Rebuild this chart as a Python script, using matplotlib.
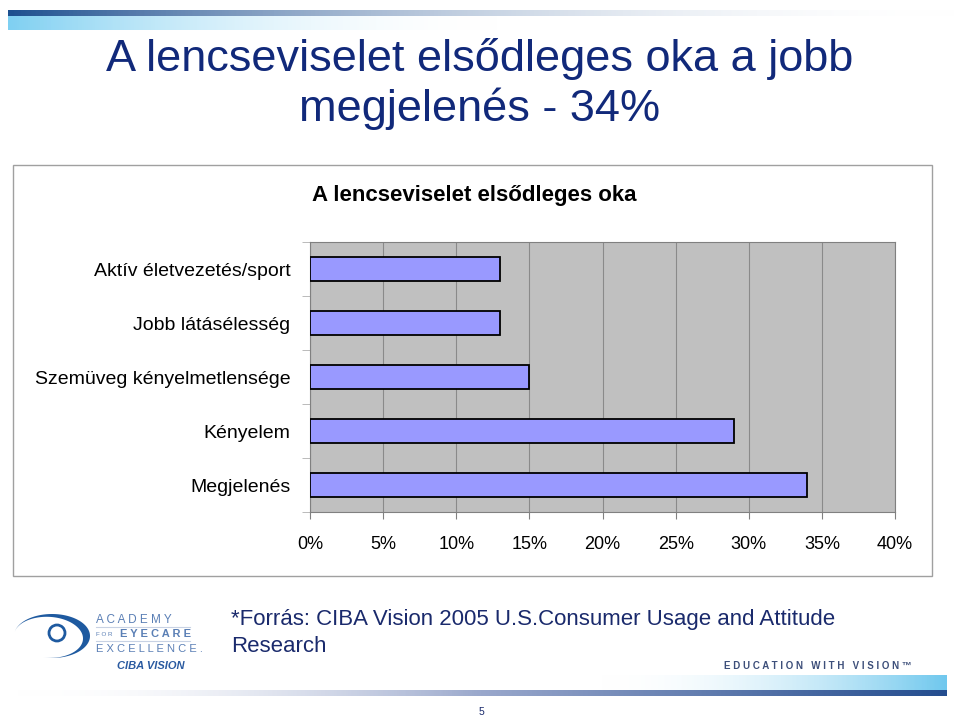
import numpy as np
import matplotlib
matplotlib.use("Agg")
import matplotlib.pyplot as plt
from matplotlib.patches import Rectangle, Circle, Polygon
from matplotlib.ticker import PercentFormatter

plt.rcParams['font.family'] = ['Liberation Sans', 'DejaVu Sans']

# data
categories = ['Aktív életvezetés/sport', 'Jobb látásélesség',
              'Szemüveg kényelmetlensége', 'Kényelem', 'Megjelenés']
values = [13, 13, 15, 29, 34]
x_ticks = [0, 5, 10, 15, 20, 25, 30, 35, 40]

slide_title = 'A lencseviselet elsődleges oka a jobb\nmegjelenés - 34%'
chart_title = 'A lencseviselet elsődleges oka'
source_text = '*Forrás: CIBA Vision 2005 U.S.Consumer Usage and Attitude\nResearch'

W, H = 960, 722
fig = plt.figure(figsize=(W / 100, H / 100), dpi=100)

# background layer in pixel coordinates
bg = fig.add_axes([0, 0, 1, 1])
bg.axis('off')


def hgrad(ax, x0, x1, y0, y1, c0, c1, a0=1.0, a1=1.0):
    grad = np.linspace(0, 1, 256)
    c0 = np.array(matplotlib.colors.to_rgb(c0))
    c1 = np.array(matplotlib.colors.to_rgb(c1))
    img = np.zeros((1, 256, 4))
    img[0, :, :3] = c0[None, :] * (1 - grad[:, None]) + c1[None, :] * grad[:, None]
    img[0, :, 3] = a0 * (1 - grad) + a1 * grad
    ax.imshow(img, extent=(x0, x1, y1, y0), aspect='auto', interpolation='bilinear', zorder=1)


# top decoration
hgrad(bg, 8, 960, 10, 16, '#1d4f8f', '#ffffff', 1.0, 0.0)
hgrad(bg, 8, 500, 16, 30, '#7fd0f2', '#ffffff', 1.0, 0.0)

# bottom decoration
hgrad(bg, 15, 480, 690, 696, '#ffffff', '#9aa8cc', 0.0, 1.0)
hgrad(bg, 480, 947, 690, 696, '#9aa8cc', '#244d8f', 1.0, 1.0)
hgrad(bg, 600, 947, 675, 690, '#ffffff', '#6fc8ee', 0.0, 1.0)

bg.set_xlim(0, W)
bg.set_ylim(H, 0)

# slide title
bg.text(480, 84, slide_title, ha='center', va='center', fontsize=32.5,
        color='#11297a', linespacing=1.2)

# chart frame
bg.add_patch(Rectangle((13, 165), 919, 411, facecolor='white',
                       edgecolor='#a0a0a0', lw=1.0, zorder=2))
bg.text(474, 195, chart_title, ha='center', va='center', fontsize=16,
        fontweight='bold', color='black', zorder=3)

# source note
bg.text(231, 633, source_text, ha='left', va='center', fontsize=16,
        color='#1a2a6c', linespacing=1.35)

# logo swoosh
th = np.radians(np.linspace(170, -105, 120))
cx, cy, a, b = 52, 636, 38, 22
ox = cx + a * np.cos(th)
oy = cy - b * np.sin(th)
s = np.sin(np.pi * (np.radians(170) - th) / np.radians(275)) ** 2
ix = cx + (ox - cx) * (1 - 0.22 * s)
iy = cy + (oy - cy) * (1 - 0.22 * s)
pts = np.column_stack([np.r_[ox, ix[::-1]], np.r_[oy, iy[::-1]]])
bg.add_patch(Polygon(pts, closed=True, color='#1e5aa0', lw=0))
bg.add_patch(Circle((57, 633), 8, fill=False, lw=2, ec='#1e5aa0'))
bg.text(96, 620, 'A C A D E M Y', fontsize=8.5, color='#5a7fb5', va='center')
bg.text(96, 634, 'F O R', fontsize=4.5, color='#5a7fb5', va='center')
bg.text(120, 634, 'E Y E C A R E', fontsize=8, color='#5a7fb5',
        fontweight='bold', va='center')
bg.plot([96, 190], [627, 627], color='#c8d2e4', lw=0.8)
bg.plot([96, 190], [641, 641], color='#c8d2e4', lw=0.8)
bg.text(96, 649, 'E X C E L L E N C E .', fontsize=8, color='#5a7fb5', va='center')
bg.text(117, 666, 'CIBA VISION', fontsize=8, color='#2a5aa0',
        fontweight='bold', fontstyle='italic', va='center')
bg.text(912, 666, 'E D U C A T I O N   W I T H   V I S I O N ™', fontsize=7,
        color='#3d4f7a', fontweight='bold', ha='right', va='center')

# page number
bg.text(481, 712, '5', fontsize=7.5, ha='center', va='center', color='#1a2a6c')

# bar chart
ax = fig.add_axes([310 / W, 1 - 512 / H, 585 / W, 270 / H])
ax.set_facecolor('#c0c0c0')
y = np.arange(len(categories))[::-1]
ax.barh(y, values, height=0.45, color='#9999ff', edgecolor='black',
        linewidth=1.3, zorder=3)
ax.set_xlim(0, 40)
ax.set_ylim(-0.5, len(categories) - 0.5)
ax.set_xticks(x_ticks)
ax.xaxis.set_major_formatter(PercentFormatter(decimals=0))
ax.grid(axis='x', color='#8a8a8a', lw=0.8, zorder=1)
ax.set_yticks(y)
ax.set_yticklabels(categories)
ax.set_yticks(np.arange(len(categories) + 1) - 0.5, minor=True)
ax.tick_params(axis='y', which='major', length=0, labelsize=14, pad=14)
ax.tick_params(axis='y', which='minor', length=6, color='#b0b0b0')
ax.tick_params(axis='x', length=5, color='#808080', labelsize=13, pad=12)
for side in ['top', 'right', 'left', 'bottom']:
    ax.spines[side].set_color('#808080')

fig.savefig('out.png', dpi=100)
